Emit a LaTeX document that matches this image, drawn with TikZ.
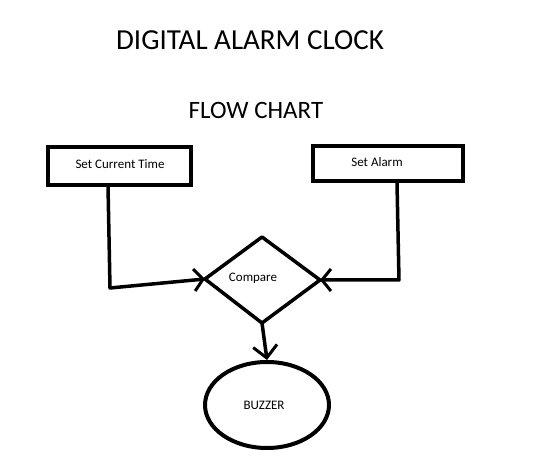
\documentclass[tikz,border=0pt]{standalone}
\usepackage{fontspec}
\setmainfont{Carlito}
\usetikzlibrary{shapes.geometric,arrows.meta}
\begin{document}
\begin{tikzpicture}[x=1pt,y=-1pt,
  box/.style={draw,line width=4pt,minimum width=#1,minimum height=38pt,inner sep=0pt},
  conn/.style={line width=3.5pt,line join=round},
  arr/.style={conn,-{Straight Barb[length=9pt,width=22pt,line width=3pt]}},
  lbl/.style={font=\fontsize{13}{15}\selectfont}]
\useasboundingbox (0,0) rectangle (539,462);
\node[font=\fontsize{29}{34}\selectfont] (title) at (250,40) {DIGITAL ALARM CLOCK};
\node[font=\fontsize{25}{30}\selectfont] (sub) at (256,110) {FLOW CHART};
\node[box=143pt] (ct) at (119.5,166) {};
\node[lbl] (ctl) at (120,164) {Set Current Time};
\node[box=150pt,minimum height=35pt] (sa) at (388,163.5) {};
\node[lbl] (salbl) at (377,162) {Set Alarm};
\coordinate (dT) at (262,237);
\coordinate (dL) at (205,279);
\coordinate (dR) at (320,280);
\coordinate (dB) at (262,323);
\draw[conn] (dT) -- (dR) -- (dB) -- (dL) -- cycle;
\node[lbl] (cmp) at (253,278) {Compare};
\node[draw,ellipse,line width=4pt,minimum width=124pt,minimum height=86pt,inner sep=0pt] (bz) at (267,405) {};
\node[lbl] (bzl) at (264,405) {BUZZER};
\coordinate (c1) at (108,186);
\coordinate (c1b) at (110,288);
\coordinate (c2) at (397,183);
\coordinate (c2b) at (399,280);
\draw[arr] (c1) -- (c1b) -- (dL);
\draw[arr] (c2) -- (c2b) -- (dR);
\draw[conn,-{Straight Barb[length=12pt,width=24pt,line width=3pt]}] (dB) -- (bz.north);
\end{tikzpicture}
\end{document}
